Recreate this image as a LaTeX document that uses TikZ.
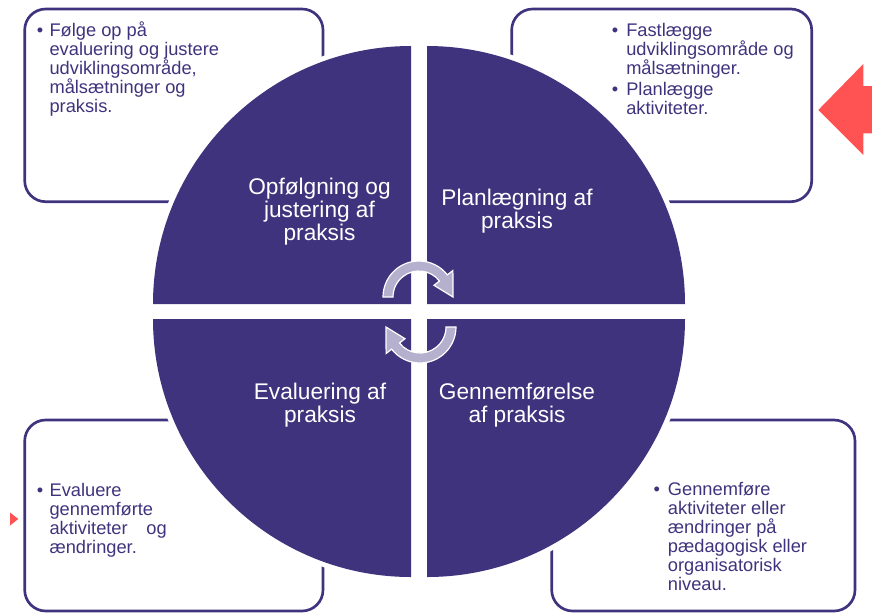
\documentclass[tikz,border=0pt]{standalone}
\usepackage{fontspec}
\setmainfont{Liberation Sans}
\definecolor{cyclepurple}{RGB}{64,51,125}
\definecolor{cyclered}{RGB}{255,82,82}
\definecolor{cyclegrey}{RGB}{180,176,206}
\tikzset{
  infobox/.style={draw=cyclepurple, line width=2pt, rounded corners=15.75pt},
  boxtext/.style={text=cyclepurple, inner sep=0pt, anchor=base west, align=left, font=\fontsize{13.7}{14.25}\selectfont},
  boxbullet/.style={text=cyclepurple, inner sep=0pt, anchor=base, font=\fontsize{13.7}{14.25}\selectfont},
  phasetext/.style={text=white, inner sep=0pt, anchor=base, align=center, font=\fontsize{17}{17.25}\selectfont},
  turnarrow/.style={fill=cyclegrey, draw=white, line width=0.9pt},
}
\begin{document}
\begin{tikzpicture}[x=0.75pt,y=0.75pt,yscale=-1,xscale=1]
    \useasboundingbox (0,0) rectangle (872,612);
    \clip (0,0) rectangle (872,612);
    % corner boxes
    \draw [infobox] (24.7,9) rectangle (323,201.7) ;
    \draw [infobox] (511.7,9) rectangle (811.7,201.7) ;
    \draw [infobox] (24.7,420) rectangle (323,611) ;
    \draw [infobox] (551.7,420) rectangle (855,611) ;
    % white rim, then the four quarters
    \foreach \cx/\cy/\a in {411/304/180, 427/304/270, 427/319/0, 411/319/90}
        \fill [white] (\cx,\cy) -- ++(\a:263) arc [start angle=\a, delta angle=90, radius=263] -- cycle ;
    \foreach \cx/\cy/\a in {411/304/180, 427/304/270, 427/319/0, 411/319/90}
        \fill [cyclepurple] (\cx,\cy) -- ++(\a:258) arc [start angle=\a, delta angle=90, radius=258] -- cycle ;
    % turning arrows
    \draw [turnarrow] ([shift={(419,297)}]180:36) arc [start angle=180, end angle=322, radius=36] -- ([shift={(419,297)}]322:43) -- ([shift={(419,297)}]0:34) -- ([shift={(419,297)}]322:19) -- ([shift={(419,297)}]322:26) arc [start angle=322, end angle=180, radius=26] -- cycle ;
    \begin{scope}[rotate around={180:(419.5,312)}]
    \draw [turnarrow] ([shift={(419,297)}]180:36) arc [start angle=180, end angle=322, radius=36] -- ([shift={(419,297)}]322:43) -- ([shift={(419,297)}]0:34) -- ([shift={(419,297)}]322:19) -- ([shift={(419,297)}]322:26) arc [start angle=322, end angle=180, radius=26] -- cycle ;
    \end{scope}
    % red markers
    \fill [cyclered] (818.3,110) -- (863.3,64) -- (863.3,86) -- (880,86) -- (880,133.3) -- (863.3,133.3) -- (863.3,155) -- cycle ;
    \fill [cyclered] (10,512.5) -- (18.3,519) -- (10,525.5) -- cycle ;
    % phase labels (placed at the last line)
    \node [phasetext] (followphase) at (319.5,240.5) {Opfølgning og\\justering af\\praksis};
    \node [phasetext] (planphase) at (517,228.7) {Planlægning af\\praksis};
    \node [phasetext] (evalphase) at (320,422.3) {Evaluering af\\praksis};
    \node [phasetext] (dophase) at (517,422.3) {Gennemførelse\\af praksis};
    % box texts (placed at the last line)
    \node [boxbullet] (followdot) at (40,36.5) {•};
    \node [boxtext] (followtext) at (49.3,112.5) {Følge op på\\evaluering og justere\\udviklingsområde,\\målsætninger og\\praksis.};
    \node [boxbullet] (plandot) at (615,36.5) {•};
    \node [boxbullet] (activitydot) at (615,95.5) {•};
    \node [boxtext] (plantext) at (626,114.5) {Fastlægge\\udviklingsområde og\\målsætninger.\\[1.5pt]Planlægge\\aktiviteter.};
    \node [boxbullet] (evaldot) at (40,496.5) {•};
    \node [boxtext] (evaltext) at (49.3,553) {Evaluere\\gennemførte\\aktiviteter\hspace{14pt}og\\ændringer.};
    \node [boxbullet] (dodot) at (656.7,495) {•};
    \node [boxtext] (dotext) at (667.7,590) {Gennemføre\\aktiviteter eller\\ændringer på\\pædagogisk eller\\organisatorisk\\niveau.};
\end{tikzpicture}
\end{document}
